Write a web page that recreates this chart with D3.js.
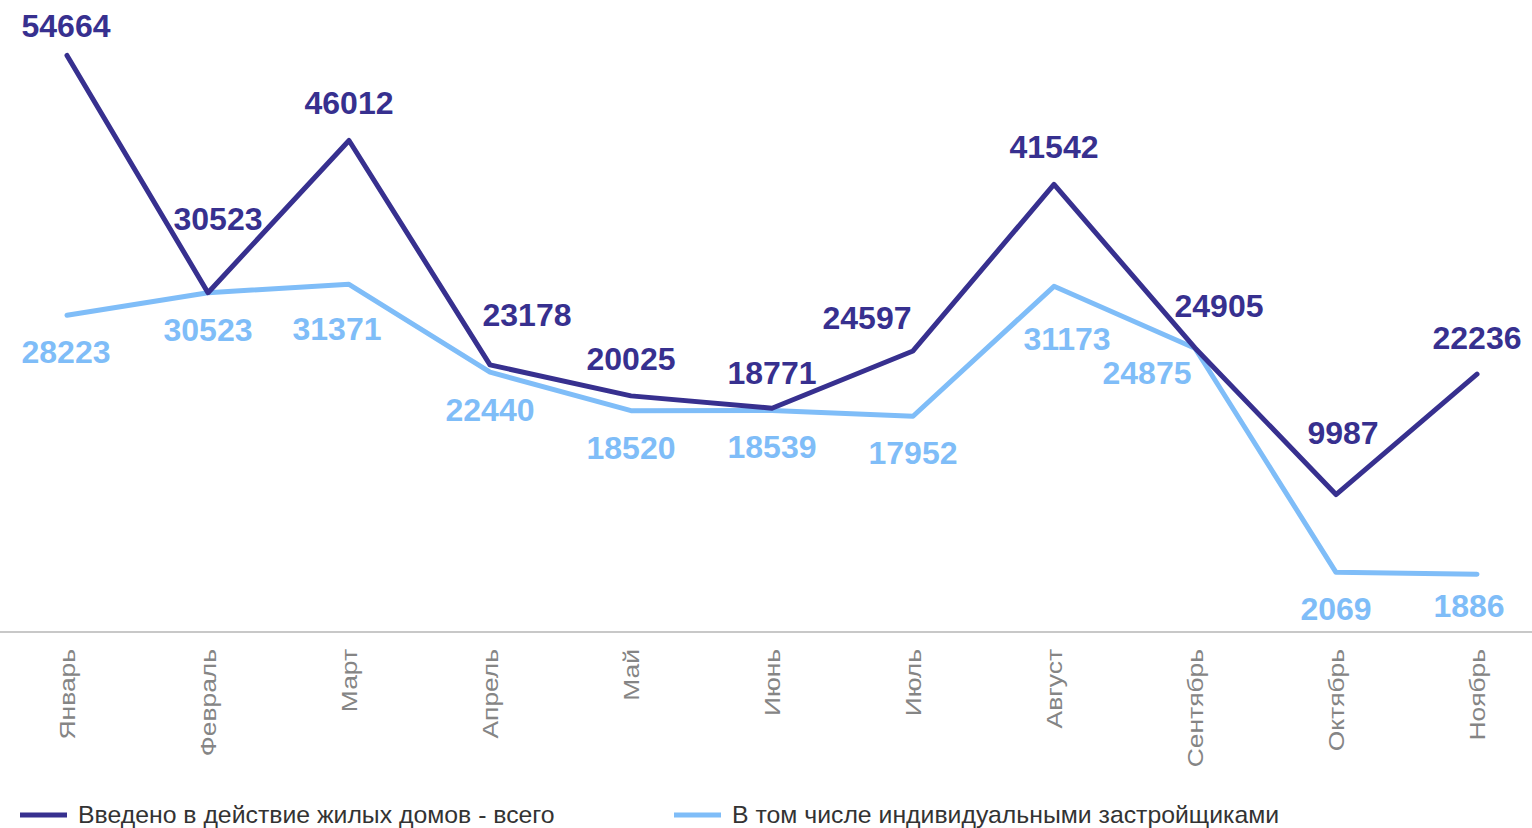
<!DOCTYPE html>
<html>
<head>
<meta charset="utf-8">
<script src="https://cdn.jsdelivr.net/npm/d3@7"></script>
<style>
  body { margin: 0; background: #fff; }
  svg { display: block; font-family: "Liberation Sans", Arial, sans-serif; }
</style>
</head>
<body>
<svg width="1532" height="828"></svg>
<script>
// data
const months = ["Январь", "Февраль", "Март", "Апрель", "Май", "Июнь", "Июль", "Август", "Сентябрь", "Октябрь", "Ноябрь"];
const totalVals = [54664, 30523, 46012, 23178, 20025, 18771, 24597, 41542, 24905, 9987, 22236];
const privVals = [28223, 30523, 31371, 22440, 18520, 18539, 17952, 31173, 24875, 2069, 1886];
const seriesNames = ["Введено в действие жилых домов - всего", "В том числе индивидуальными застройщиками"];

// label nudges (dx, dy from the point), picked by eye
const totalShift = [[-1,-18],[10,-63],[0,-26],[37,-39],[0,-26],[0,-24],[-46,-22],[0,-26],[24,-31],[7,-51],[0,-25]];
const privShift = [[-1,48],[0,48],[-12,56],[0,49],[0,48],[0,48],[0,48],[13,64],[-48,36],[0,48],[-8,43]];

const navy = "#37308f", sky = "#7fbdf8";

const svg = d3.select("svg");
const W = 1532;

const x = d3.scalePoint()
  .domain(months)
  .range([67, 1477]);

const y = d3.scaleLinear()
  .domain([-4000, 60000])
  .range([632, 3]);

// baseline
svg.append("line")
  .attr("x1", 0).attr("x2", W)
  .attr("y1", y(-4000)).attr("y2", y(-4000))
  .attr("stroke", "#c8c8c8")
  .attr("stroke-width", 2);

// month labels
const xAxis = svg.append("g")
  .attr("transform", `translate(0, ${y(-4000)})`)
  .call(d3.axisBottom(x).tickSize(0).tickPadding(0));
xAxis.select(".domain").remove();
xAxis.selectAll(".tick text")
  .attr("fill", "#858585")
  .attr("font-size", "22px")
  .attr("font-family", "Liberation Sans, Arial, sans-serif")
  .attr("text-anchor", "end")
  .attr("y", 0)
  .attr("dy", "0.35em")
  .attr("transform", "translate(0,17) rotate(-90) scale(1.2,1)");

const line = d3.line()
  .x((d, i) => x(months[i]))
  .y(d => y(d));

svg.append("path")
  .datum(privVals)
  .attr("d", line)
  .attr("fill", "none")
  .attr("stroke", sky)
  .attr("stroke-width", 5)
  .attr("stroke-linejoin", "round")
  .attr("stroke-linecap", "round");

svg.append("path")
  .datum(totalVals)
  .attr("d", line)
  .attr("fill", "none")
  .attr("stroke", navy)
  .attr("stroke-width", 5)
  .attr("stroke-linejoin", "round")
  .attr("stroke-linecap", "round");

// value labels
svg.selectAll("text.tot")
  .data(totalVals)
  .join("text")
  .attr("class", "tot")
  .attr("x", (d, i) => x(months[i]) + totalShift[i][0])
  .attr("y", (d, i) => y(d) + totalShift[i][1])
  .attr("text-anchor", "middle")
  .attr("font-size", "32px")
  .attr("font-weight", "bold")
  .attr("fill", navy)
  .text(d => d);

svg.selectAll("text.prv")
  .data(privVals)
  .join("text")
  .attr("class", "prv")
  .attr("x", (d, i) => x(months[i]) + privShift[i][0])
  .attr("y", (d, i) => y(d) + privShift[i][1])
  .attr("text-anchor", "middle")
  .attr("font-size", "32px")
  .attr("font-weight", "bold")
  .attr("fill", sky)
  .text(d => d);

// legend
const legend = svg.append("g").attr("transform", "translate(0, 815)");
const legX = [20, 674];
[navy, sky].forEach((c, i) => {
  legend.append("line")
    .attr("x1", legX[i]).attr("x2", legX[i] + 47)
    .attr("y1", 0).attr("y2", 0)
    .attr("stroke", c)
    .attr("stroke-width", 5);
  legend.append("text")
    .attr("x", legX[i] + 58)
    .attr("y", 8)
    .attr("font-size", "24.8px")
    .attr("fill", "#333")
    .text(seriesNames[i]);
});
</script>
</body>
</html>
